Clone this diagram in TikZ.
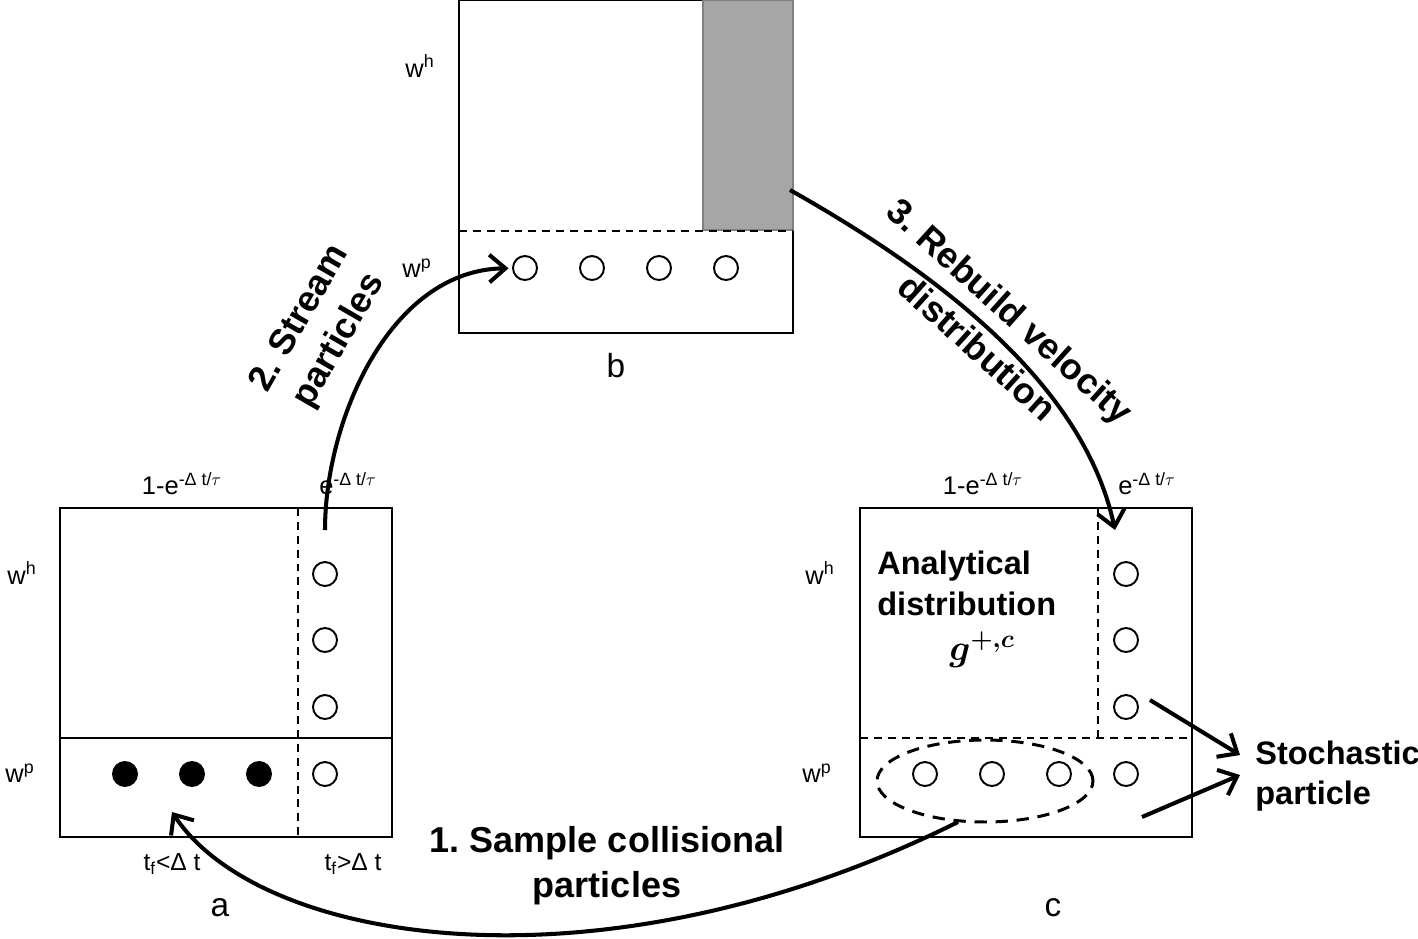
\documentclass[tikz,border=0pt]{standalone}
\usepackage{fontspec}
\setmainfont{Liberation Sans}
\usepackage{amsmath}
\usepackage{tikz}
\usetikzlibrary{positioning,arrows.meta,shapes.geometric}

\definecolor{shade}{HTML}{A6A6A6}
\definecolor{shadeline}{HTML}{808080}

\begin{document}
\frenchspacing
\begin{tikzpicture}[x=0.02cm, y=-0.02cm,
  box/.style={line width=1.1pt},
  divider/.style={line width=1.1pt, dash pattern=on 4.5pt off 3.4pt},
  pcl/.style={circle, draw=black, line width=1.1pt, minimum size=0.48cm, inner sep=0pt},
  hit/.style={pcl, fill=black},
  small/.style={font=\fontsize{14.5}{16}\selectfont, inner sep=0pt},
  tiny/.style={font=\fontsize{14}{16}\selectfont, inner sep=0pt},
  tag/.style={font=\fontsize{19}{22}\selectfont, inner sep=0pt},
  inbox/.style={font=\fontsize{18.5}{23}\selectfont\bfseries, inner sep=0pt, align=left},
  steptxt/.style={font=\fontsize{20.5}{25.5}\selectfont\bfseries, inner sep=0pt, align=center},
  arrow/.style={-{Straight Barb[length=3.2mm,width=5.5mm]}, line width=2.3pt}
]
\useasboundingbox (0,0) rectangle (1418,938);

% Panel a
\draw[box] (60,508) rectangle (392,837);
\draw[box] (60,738) -- (392,738);
\draw[divider] (298,508) -- (298,837);
\foreach \y [count=\i] in {574,640,707,774}
  \node[pcl] (a\i) at (325,\y) {};
\foreach \x [count=\i] in {125,192,259}
  \node[hit] (f\i) at (\x,774) {};

\node[small] (aleft) at (182,484) {1-e\textsuperscript{-Δ t/$\tau$}};
\node[small] (aright) at (348,484) {e\textsuperscript{-Δ t/$\tau$}};
\node[small] (awh) at (22,573) {w\textsuperscript{h}};
\node[small] (awp) at (20,773) {w\textsuperscript{p}};
\node[tiny] (aslow) at (172,864) {t\textsubscript{f}<Δ t};
\node[tiny] (afast) at (353,864) {t\textsubscript{f}>Δ t};
\node[tag] (taga) at (220,908) {a};

% Panel b
\draw[box] (459,0) rectangle (793,333);
\draw[fill=shade, draw=shadeline, line width=1.1pt] (703,0) rectangle (793,230);
\draw[divider] (459,231) -- (793,231);
\foreach \x [count=\i] in {525,592,659,726}
  \node[pcl] (b\i) at (\x,268) {};
\node[small] (bwh) at (420,66) {w\textsuperscript{h}};
\node[small] (bwp) at (417,268) {w\textsuperscript{p}};
\node[tag] (tagb) at (616,366) {b};

% Panel c
\draw[box] (860,508) rectangle (1192,837);
\draw[divider] (1098,508) -- (1098,738);
\draw[divider] (860,738) -- (1192,738);
\foreach \y [count=\i] in {574,640,707,774}
  \node[pcl] (c\i) at (1126,\y) {};
\foreach \x [count=\i] in {925,992,1059}
  \node[pcl] (d\i) at (\x,774) {};
\node[ellipse, draw, line width=1.7pt, dash pattern=on 7pt off 5pt,
  minimum width=4.32cm, minimum height=1.64cm] (grp) at (985,781) {};

\node[small] (cleft) at (983,484) {1-e\textsuperscript{-Δ t/$\tau$}};
\node[small] (cright) at (1147,484) {e\textsuperscript{-Δ t/$\tau$}};
\node[small] (cwh) at (820,573) {w\textsuperscript{h}};
\node[small] (cwp) at (817,773) {w\textsuperscript{p}};
\node[tag] (tagc) at (1053,908) {c};
\node[inbox, anchor=north west] (ana) at (877,551) {Analytical\\distribution};
\node[inner sep=0pt] (gpc) at (982,650) {\fontsize{20.5}{22}\selectfont$\boldsymbol{g^{+,c}}$};
\node[inbox, anchor=west] (sto) at (1255,776) {Stochastic\\particle};

% Step labels
\node[steptxt] (step1) at (607,866) {1. Sample collisional\\particles};
\node[steptxt, rotate=60] (step2) at (320,330) {2. Stream\\particles};
\node[steptxt, rotate=-42, font=\fontsize{20.5}{28}\selectfont\bfseries] (step3) at (994,329) {3. Rebuild velocity\\distribution};

% Arrows
\coordinate (s1) at (958,822);
\coordinate (e1) at (172,812);
\coordinate (s2) at (325,530);
\coordinate (s3) at (790,190);
\coordinate (e3) at (1115,530);
\coordinate (s4) at (1150,700);
\coordinate (s5) at (1142,817);
\coordinate (e4) at (1240,755);
\coordinate (e5) at (1240,775);

\draw[arrow] (s1) .. controls (600,1000) and (260,945) .. (e1);
\draw[arrow, shorten >=2pt] (s2) .. controls (325,420) and (390,270) .. (b1);
\draw[arrow] (s3) .. controls (950,280) and (1085,390) .. (e3);
\draw[arrow] (s4) -- (e4);
\draw[arrow] (s5) -- (e5);

\end{tikzpicture}
\end{document}
